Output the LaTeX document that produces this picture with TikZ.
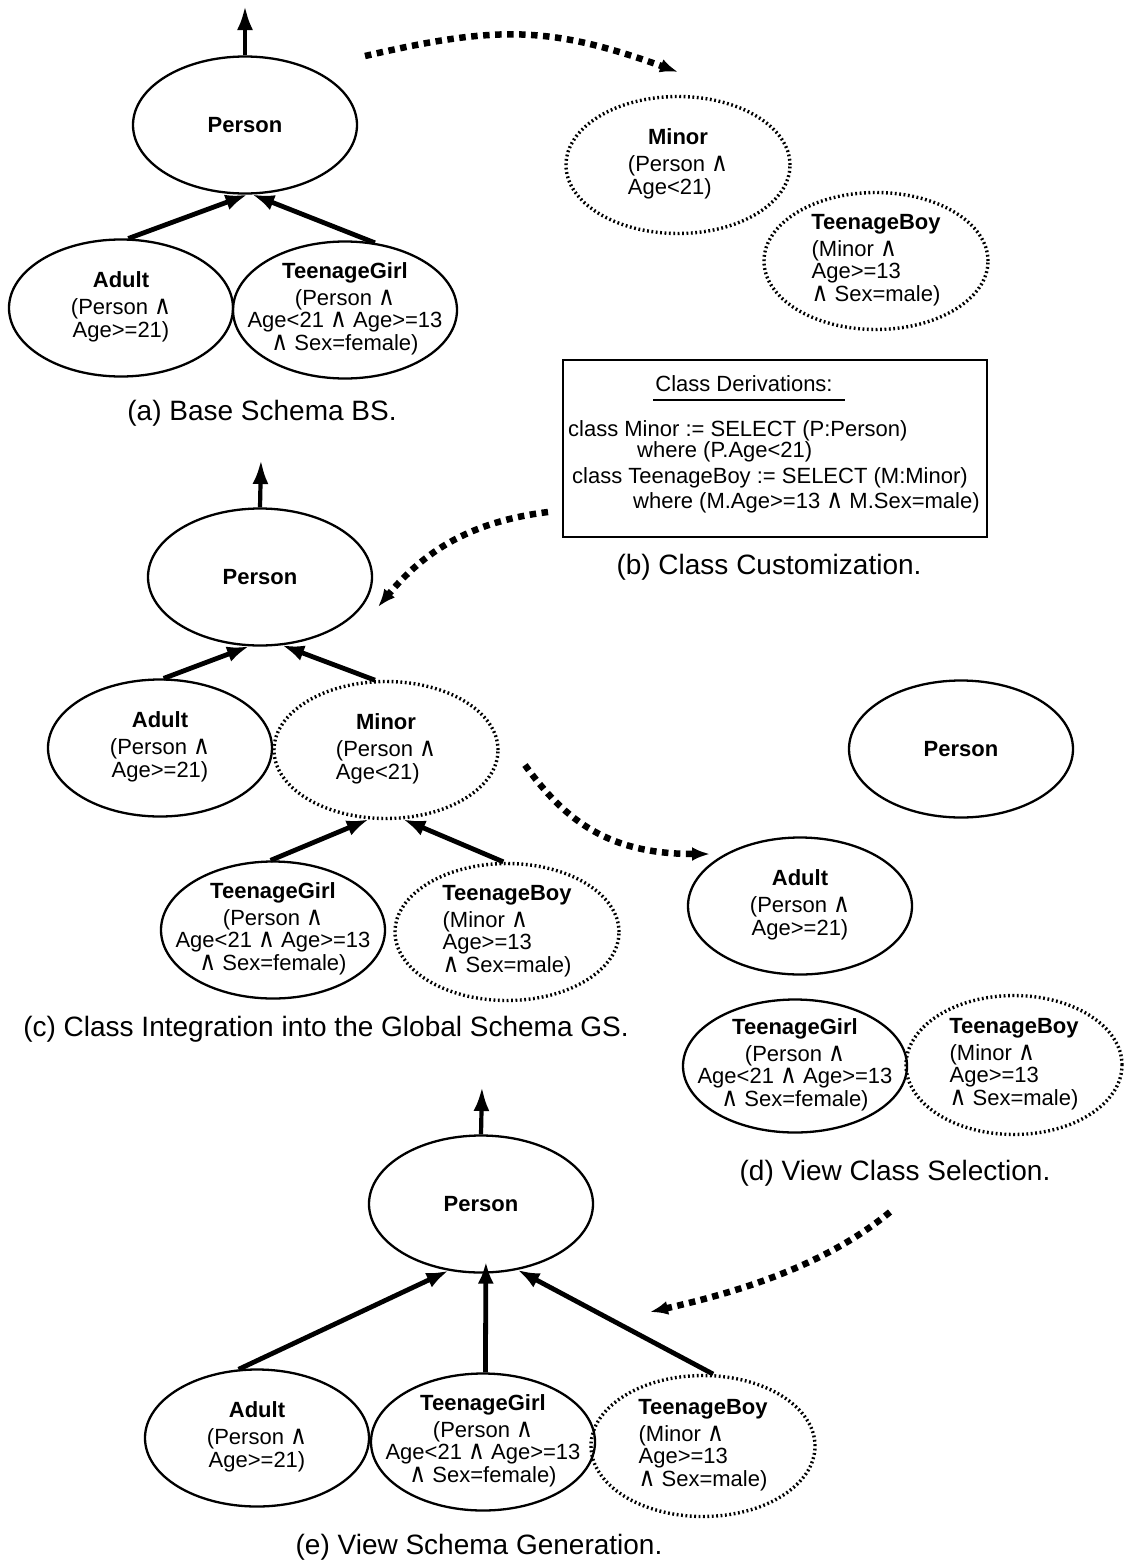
\documentclass[tikz,border=0pt]{standalone}
\usepackage{fontspec}
\usepackage{graphicx}
\setmainfont{Liberation Sans}
\newfontfamily\symf{DejaVu Sans}
\usetikzlibrary{shapes.geometric,arrows.meta}

% logical "and" sign, drawn a little taller than the operator glyph
\newcommand\AND{\scalebox{1.05}[1.2]{\symf ∧}}
% class label: bold name over a centred body
\newcommand\clsc[2]{\begin{tabular}{@{}c@{}}\textbf{#1}\\[4pt]#2\end{tabular}}
% class label: bold name over a left-aligned body
\newcommand\clsl[2]{\begin{tabular}{@{}c@{}}\textbf{#1}\\[4pt]\begin{tabular}[t]{@{}l@{}}#2\end{tabular}\end{tabular}}
\newcommand\nodefont{\fontsize{22}{22.5}\selectfont}

\tikzset{
  cls/.style={ellipse, minimum width=224pt, minimum height=137pt, inner sep=0pt, font=\nodefont},
  solidcls/.style={cls, draw, line width=2.3pt},
  dotcls/.style={cls, draw, line width=3.4pt, dash pattern=on 1.8pt off 2.6pt},
  txt/.style={font=\nodefont, inner sep=0pt},
  isa/.style={line width=4.8pt, -{Latex[length=22pt,width=16pt]}},
  upward/.style={line width=4.2pt, -{Latex[length=24pt,width=16pt]}},
  flow/.style={line width=6.5pt, dash pattern=on 6.5pt off 5.5pt, -{Latex[length=18pt,width=14pt]}},
  capt/.style={font=\fontsize{28}{30}\selectfont, inner sep=0pt},
  code/.style={font=\fontsize{22}{22}\selectfont, inner sep=0pt, anchor=west}
}

\begin{document}
\begin{tikzpicture}[x=1pt, y=-1pt]
\fill[white] (0,0) rectangle (1124,1566);
\useasboundingbox (0,0) rectangle (1124,1566);

% ---------- (a) base schema ----------
\node[solidcls] (pA) at (245,125) {\bfseries Person};
\node[solidcls, label={[txt]center:{\clsc{Adult}{(Person \AND\\Age>=21)}}}] (adultA) at (121,308) {};
\node[solidcls, label={[txt]center:{\clsc{TeenageGirl}{(Person \AND\\Age<21 \AND{} Age>=13\\\AND{} Sex=female)}}}] (girlA) at (345,310) {};
\coordinate (topA) at (245,6);
\draw[upward] (pA.north) -- (topA);
\draw[isa] (adultA.84) -- (pA.-88);
\draw[isa] (girlA.66) -- (pA.-84);
\node[capt] (capA) at (262,413) {(a) Base Schema BS.};

% ---------- (b) class customization ----------
\node[dotcls, label={[txt]center:{\clsl{Minor}{(Person \AND\\Age<21)}}}] (minorB) at (678,165) {};
\node[dotcls, label={[txt]center:{\clsl{TeenageBoy}{(Minor \AND\\Age>=13\\\AND{} Sex=male)}}}] (boyB) at (876,261) {};
\node[draw, line width=2.4pt, minimum width=424pt, minimum height=177pt, inner sep=0pt] (derivBox) at (775,448.5) {};
\node[code, anchor=center] (boxTitle) at (744,384) {Class Derivations:};
\draw[line width=2.4pt] ([xshift=-2pt,yshift=-8pt]boxTitle.base west) -- ([xshift=12pt,yshift=-8pt]boxTitle.base east);
\node[code] (derivA) at (568,431) {class Minor := SELECT (P:Person)};
\node[code] (derivB) at (637,452) {where (P.Age<21)};
\node[code] (derivC) at (572,478) {class TeenageBoy := SELECT (M:Minor)};
\node[code] (derivD) at (633,503) {where (M.Age>=13 \AND{} M.Sex=male)};
\node[capt] (capB) at (769,567) {(b) Class Customization.};

% ---------- (c) class integration ----------
\node[solidcls] (pC) at (260,577) {\bfseries Person};
\node[solidcls, label={[txt]center:{\clsc{Adult}{(Person \AND\\Age>=21)}}}] (adultC) at (160,748) {};
\node[dotcls, label={[txt]center:{\clsl{Minor}{(Person \AND\\Age<21)}}}] (minorC) at (386,750) {};
\node[solidcls, label={[txt]center:{\clsc{TeenageGirl}{(Person \AND\\Age<21 \AND{} Age>=13\\\AND{} Sex=female)}}}] (girlC) at (273,930) {};
\node[dotcls, label={[txt]center:{\clsl{TeenageBoy}{(Minor \AND\\Age>=13\\\AND{} Sex=male)}}}] (boyC) at (507,932) {};
\coordinate (topC) at (261,460);
\draw[upward] (pC.north) -- (topC);
\draw[isa] (adultC.87) -- (pC.-99);
\draw[isa] (minorC.99) -- (pC.-72);
\draw[isa] (girlC.92) -- (minorC.-104);
\draw[isa] (boyC.93) -- (minorC.-76);
\node[capt] (capC) at (326,1029) {(c) Class Integration into the Global Schema GS.};

% ---------- (d) view class selection ----------
\node[solidcls] (pD) at (961,749) {\bfseries Person};
\node[solidcls, label={[txt]center:{\clsc{Adult}{(Person \AND\\Age>=21)}}}] (adultD) at (800,906) {};
\node[solidcls, minimum height=133pt, label={[txt]center:{\clsc{TeenageGirl}{(Person \AND\\Age<21 \AND{} Age>=13\\\AND{} Sex=female)}}}] (girlD) at (795,1066) {};
\node[dotcls, minimum width=216pt, minimum height=139pt, label={[txt]center:{\clsl{TeenageBoy}{(Minor \AND\\Age>=13\\\AND{} Sex=male)}}}] (boyD) at (1014,1065) {};
\node[capt] (capD) at (895,1173) {(d) View Class Selection.};

% ---------- (e) view schema generation ----------
\node[solidcls] (pE) at (481,1204) {\bfseries Person};
\node[solidcls, label={[txt]center:{\clsc{Adult}{(Person \AND\\Age>=21)}}}] (adultE) at (257,1438) {};
\node[solidcls, label={[txt]center:{\clsc{TeenageGirl}{(Person \AND\\Age<21 \AND{} Age>=13\\\AND{} Sex=female)}}}] (girlE) at (483,1442) {};
\node[dotcls, minimum height=141pt, label={[txt]center:{\clsl{TeenageBoy}{(Minor \AND\\Age>=13\\\AND{} Sex=male)}}}] (boyE) at (703,1446) {};
\coordinate (topE) at (482,1087);
\draw[upward] (pE.north) -- (topE);
\draw[isa] (adultE.105) -- (pE.-116);
\draw[isa, shorten >=-12pt] (girlE.88) -- (pE.-86);
\draw[isa] (boyE.82) -- (pE.-61);
\node[capt] (capE) at (479,1547) {(e) View Schema Generation.};

% ---------- process steps between the stages ----------
\coordinate (f1s) at (365,56);  \coordinate (f1e) at (678,72);
\coordinate (f2s) at (548,512); \coordinate (f2e) at (378,607);
\coordinate (f3s) at (525,765); \coordinate (f3e) at (710,854);
\coordinate (f4s) at (890,1212); \coordinate (f4e) at (650,1312);
\draw[flow] (f1s) .. controls (495,26) and (548,25) .. (f1e);
\draw[flow] (f2s) .. controls (468,522) and (423,553) .. (f2e);
\draw[flow] (f3s) .. controls (566,822) and (610,854) .. (f3e);
\draw[flow] (f4s) .. controls (828,1263) and (747,1290) .. (f4e);
\end{tikzpicture}
\end{document}
